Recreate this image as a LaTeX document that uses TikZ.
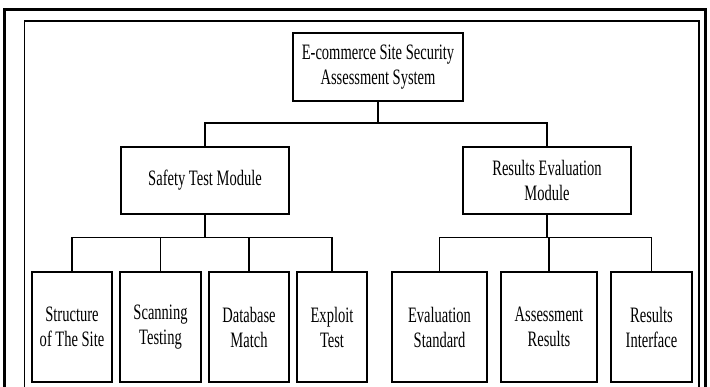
\documentclass[tikz,border=0pt]{standalone}
\usepackage{fontspec}
\setmainfont[FakeStretch=0.66]{Liberation Serif}
\usetikzlibrary{positioning}
\usetikzlibrary{calc}

\begin{document}
\begin{tikzpicture}[x=1pt,y=-1pt,
	box/.style={draw, line width=1.3pt, inner sep=0pt, align=center,
		font=\fontsize{22}{25}\selectfont},
	link/.style={line width=1.3pt}]
	\useasboundingbox (0,0) rectangle (710,387);

	% Double frame, open at the bottom
	\draw[line width=3pt] (4,387) -- (4,10) -- (705,10) -- (705,387);
	\draw[line width=1.5pt] (24.5,387) -- (24.5,21) -- (699,21) -- (699,387);

	% Top level
	\node[box, minimum width=170pt, minimum height=68pt] (sys) at (378,67) {E-commerce Site Security\\Assessment System};

	% Modules
	\node[box, minimum width=168pt, minimum height=67pt] (safety) at (205,180.5) {Safety Test Module};
	\node[box, minimum width=168pt, minimum height=67pt] (eval) at (547,180.5) {Results Evaluation\\Module};

	% Sub-modules
	\node[box, minimum width=80pt, minimum height=110pt] (site) at (72,327) {Structure\\of The Site};
	\node[box, minimum width=81pt, minimum height=110pt] (scan) at (160.5,327) {Scanning\\Testing};
	\node[box, minimum width=80pt, minimum height=110pt] (dbm) at (249,327) {Database\\Match};
	\node[box, minimum width=70pt, minimum height=110pt] (expl) at (332,327) {Exploit\\Test};
	\node[box, minimum width=95pt, minimum height=110pt] (std) at (439.5,327) {Evaluation\\Standard};
	\node[box, minimum width=96pt, minimum height=110pt] (res) at (549,327) {Assessment\\Results};
	\node[box, minimum width=81pt, minimum height=110pt] (ui) at (651.5,327) {Results\\Interface};

	% Tree connectors
	\foreach \c in {safety,eval}
		\draw[link] (sys.south) -- (sys.south |- 0,123) -| (\c.north);
	\foreach \c in {site,scan,dbm,expl}
		\draw[link] (safety.south) -- (safety.south |- 0,237.5) -| (\c.north);
	\foreach \c in {std,res,ui}
		\draw[link] (eval.south) -- (eval.south |- 0,237.5) -| (\c.north);
\end{tikzpicture}
\end{document}
